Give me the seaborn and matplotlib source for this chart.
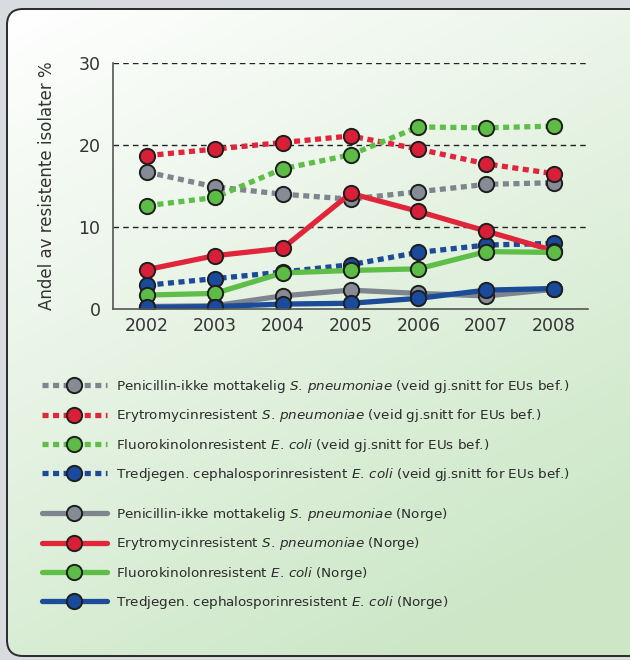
import numpy as np
import seaborn as sns
import matplotlib.pyplot as plt
from matplotlib.lines import Line2D
from matplotlib.patches import FancyBboxPatch

years = [2002, 2003, 2004, 2005, 2006, 2007, 2008]

# EU (veid gj.snitt) - dotted
eu_pen = [16.7, 14.9, 14.0, 13.4, 14.3, 15.2, 15.4]
eu_ery = [18.7, 19.5, 20.3, 21.1, 19.5, 17.7, 16.5]
eu_fluo = [12.6, 13.6, 17.1, 18.8, 22.2, 22.1, 22.3]
eu_ceph = [2.9, 3.7, 4.5, 5.4, 6.9, 7.8, 8.0]

# Norge - solid
no_pen = [0.3, 0.4, 1.6, 2.3, 1.9, 1.6, 2.4]
no_ery = [4.8, 6.5, 7.4, 14.1, 11.9, 9.5, 7.1]
no_fluo = [1.7, 1.9, 4.4, 4.7, 4.9, 7.0, 6.9]
no_ceph = [0.2, 0.3, 0.6, 0.7, 1.3, 2.3, 2.5]

yticks = [0, 10, 20, 30]
ylabel = "Andel av resistente isolater %"

line_cols = {"pen": "#7e858e", "ery": "#e1263c", "fluo": "#5fbe48", "ceph": "#1c4b98"}
mark_cols = {"pen": "#868c95", "ery": "#d91f37", "fluo": "#5cbc45", "ceph": "#1a4a9b"}

eu_labels = [
    r"Penicillin-ikke mottakelig $\mathit{S.\,pneumoniae}$ (veid gj.snitt for EUs bef.)",
    r"Erytromycinresistent $\mathit{S.\,pneumoniae}$ (veid gj.snitt for EUs bef.)",
    r"Fluorokinolonresistent $\mathit{E.\,coli}$ (veid gj.snitt for EUs bef.)",
    r"Tredjegen. cephalosporinresistent $\mathit{E.\,coli}$ (veid gj.snitt for EUs bef.)",
]
no_labels = [
    r"Penicillin-ikke mottakelig $\mathit{S.\,pneumoniae}$ (Norge)",
    r"Erytromycinresistent $\mathit{S.\,pneumoniae}$ (Norge)",
    r"Fluorokinolonresistent $\mathit{E.\,coli}$ (Norge)",
    r"Tredjegen. cephalosporinresistent $\mathit{E.\,coli}$ (Norge)",
]

sns.set_theme(style="white")
plt.rcParams["font.family"] = ["DejaVu Sans"]
plt.rcParams["mathtext.fontset"] = "dejavusans"

fig = plt.figure(figsize=(6.3, 6.6), dpi=100)
fig.patch.set_facecolor("#d8dce1")

# rounded panel with soft green gradient
bg = fig.add_axes([0, 0, 1, 1], zorder=0)
bg.set_xlim(0, 630)
bg.set_ylim(660, 0)
bg.axis("off")
gx, gy = np.meshgrid(np.linspace(0, 1, 200), np.linspace(0, 1, 200))
t = np.clip(0.4 * gx + 0.75 * gy, 0, 1)
c0 = np.array([1.0, 1.0, 1.0])
c1 = np.array([0.80, 0.905, 0.78])
img = c0 + (c1 - c0) * t[..., None]
panel = FancyBboxPatch((7, 9), 640, 647, boxstyle="round,pad=0,rounding_size=16",
                       fc="none", ec="#2a2a2a", lw=1.4, transform=bg.transData, zorder=3)
bg.add_patch(panel)
im = bg.imshow(img, extent=(7, 647, 656, 9), aspect="auto", zorder=1)
im.set_clip_path(panel)

ax = fig.add_axes([113 / 630, 1 - 309 / 660, (588 - 113) / 630, (309 - 63) / 660], zorder=2)
ax.patch.set_alpha(0)

dotted = (0, (1.15, 0.85))
series = [
    (eu_pen, "pen", dotted), (eu_ery, "ery", dotted), (eu_fluo, "fluo", dotted), (eu_ceph, "ceph", dotted),
    (no_pen, "pen", "-"), (no_ery, "ery", "-"), (no_fluo, "fluo", "-"), (no_ceph, "ceph", "-"),
]
for vals, key, ls in series:
    sns.lineplot(x=years, y=vals, ax=ax, color=line_cols[key], linestyle=ls, linewidth=3.8,
                 marker="o", markersize=11, markerfacecolor=mark_cols[key],
                 markeredgecolor="#1e1e1e", markeredgewidth=1.4, dash_capstyle="butt")

ax.set_xlim(2001.5, 2008.5)
ax.set_ylim(0, 30)
ax.set_xticks(years)
ax.set_xticks([y + 0.5 for y in years], minor=True)
ax.set_yticks(yticks)
ax.tick_params(axis="x", which="major", length=0, pad=6, labelsize=12.5, labelcolor="#333333")
ax.tick_params(axis="x", which="minor", length=5, width=1, color="#444444", direction="in")
ax.tick_params(axis="y", length=0, pad=9, labelsize=12.5, labelcolor="#333333")
for v in [10, 20, 30]:
    ax.axhline(v, color="#222222", lw=1.0, ls=(0, (4, 3)), zorder=0)
for s in ["top", "right"]:
    ax.spines[s].set_visible(False)
for s in ["left", "bottom"]:
    ax.spines[s].set_color("#555555")
    ax.spines[s].set_linewidth(1.2)
ax.set_xlabel("")
ax.set_ylabel(ylabel, fontsize=12, color="#333333", labelpad=16)


def handle(key, ls):
    return Line2D([], [], color=line_cols[key], linestyle=ls, linewidth=3.8, marker="o",
                  markersize=11, markerfacecolor=mark_cols[key], markeredgecolor="#1e1e1e",
                  markeredgewidth=1.4, dash_capstyle="butt")


keys = ["pen", "ery", "fluo", "ceph"]
leg_kw = dict(loc="upper left", frameon=False, fontsize=9.7, handlelength=4.8,
              handletextpad=0.7, labelspacing=0.92, borderpad=0, borderaxespad=0,
              labelcolor="#2b2b2b")
leg1 = fig.legend([handle(k, dotted) for k in keys], eu_labels,
                  bbox_to_anchor=(42 / 630, 1 - 378 / 660), **leg_kw)
leg2 = fig.legend([handle(k, "-") for k in keys], no_labels,
                  bbox_to_anchor=(42 / 630, 1 - 506 / 660), **leg_kw)

fig.savefig("out.png", dpi=100, facecolor=fig.get_facecolor())
